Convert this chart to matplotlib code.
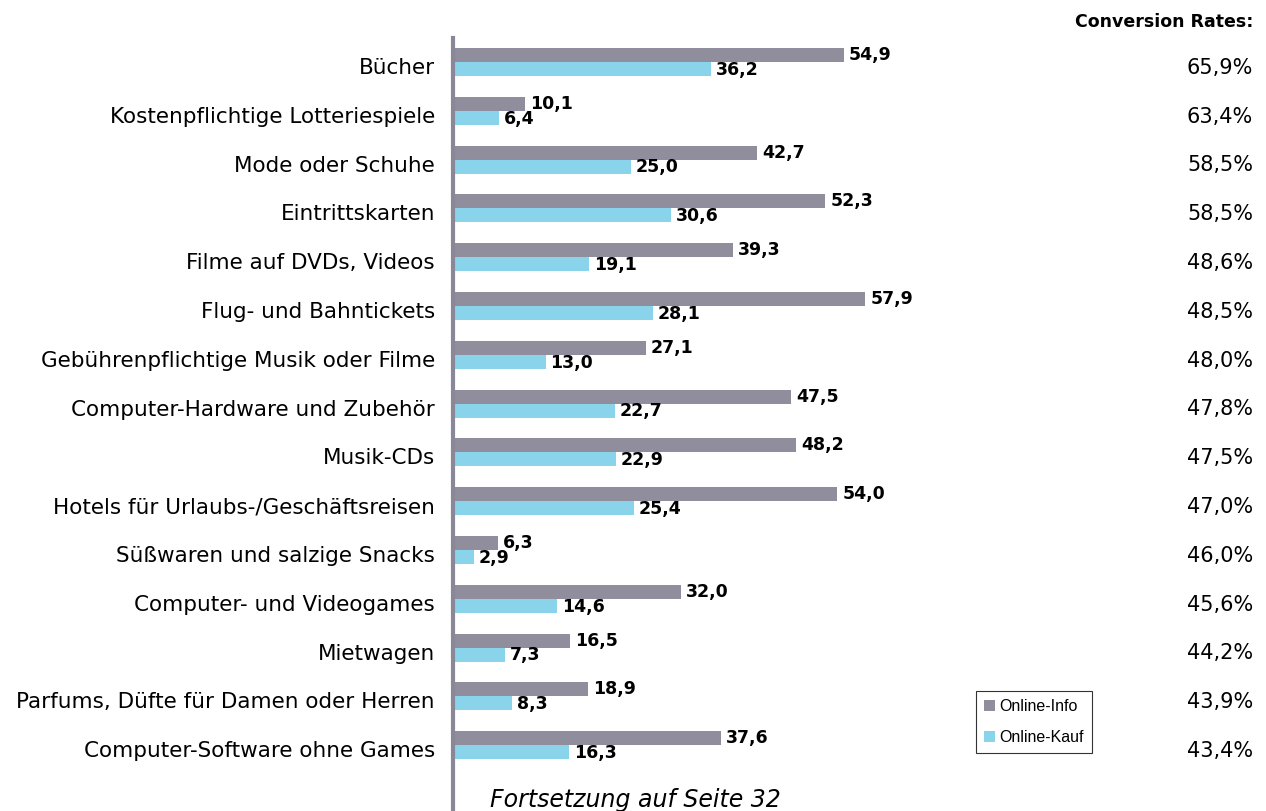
import numpy as np
import matplotlib
matplotlib.use('Agg')
import matplotlib.pyplot as plt
from matplotlib.transforms import ScaledTranslation

# data
categories = ['Bücher', 'Kostenpflichtige Lotteriespiele', 'Mode oder Schuhe', 'Eintrittskarten',
              'Filme auf DVDs, Videos', 'Flug- und Bahntickets', 'Gebührenpflichtige Musik oder Filme',
              'Computer-Hardware und Zubehör', 'Musik-CDs', 'Hotels für Urlaubs-/Geschäftsreisen',
              'Süßwaren und salzige Snacks', 'Computer- und Videogames', 'Mietwagen',
              'Parfums, Düfte für Damen oder Herren', 'Computer-Software ohne Games']
online_info = [54.9, 10.1, 42.7, 52.3, 39.3, 57.9, 27.1, 47.5, 48.2, 54.0, 6.3, 32.0, 16.5, 18.9, 37.6]
online_kauf = [36.2, 6.4, 25.0, 30.6, 19.1, 28.1, 13.0, 22.7, 22.9, 25.4, 2.9, 14.6, 7.3, 8.3, 16.3]
conversion = ['65,9%', '63,4%', '58,5%', '58,5%', '48,6%', '48,5%', '48,0%', '47,8%', '47,5%',
              '47,0%', '46,0%', '45,6%', '44,2%', '43,9%', '43,4%']

gray = '#908e9c'
cyan = '#89d4eb'

fig = plt.figure(figsize=(12.66, 8.11), dpi=100)
ax = fig.add_axes([453 / 1266, 0, 712 / 1266, 773 / 811])

y = np.arange(len(categories))
h = 0.287
ax.barh(y - h / 2, online_info, height=h, color=gray, label='Online-Info')
ax.barh(y + h / 2, online_kauf, height=h, color=cyan, label='Online-Kauf')

ax.set_xlim(0, 100)
ax.set_ylim(15.35, -0.49)

# value labels
off = ScaledTranslation(5 / 100, 0, fig.dpi_scale_trans)
for i in range(len(categories)):
    ax.text(online_info[i], y[i] - h / 2, '{:.1f}'.format(online_info[i]).replace('.', ','),
            ha='left', va='center', fontsize=12.5, fontweight='bold', transform=ax.transData + off)
    ax.text(online_kauf[i], y[i] + h / 2 + 0.02, '{:.1f}'.format(online_kauf[i]).replace('.', ','),
            ha='left', va='center', fontsize=12.5, fontweight='bold', transform=ax.transData + off)

# category labels as tick labels
ax.set_yticks(y)
ax.set_yticklabels(categories, fontsize=15.5)
ax.tick_params(axis='y', length=0, pad=13)
for lab in ax.get_yticklabels():
    lab.set_transform(lab.get_transform() + ScaledTranslation(0, -4 / 100, fig.dpi_scale_trans))
ax.set_xticks([])

for s in ['top', 'right', 'bottom']:
    ax.spines[s].set_visible(False)
ax.spines['left'].set_color('#8a8898')
ax.spines['left'].set_linewidth(3)

# conversion rates column
conv_tr = matplotlib.transforms.blended_transform_factory(fig.transFigure, ax.transData)
for i, c in enumerate(conversion):
    ax.text(1253 / 1266, y[i] + 0.12, c, ha='right', va='center', fontsize=15,
            transform=conv_tr, clip_on=False)
fig.text(1253 / 1266, 1 - 22 / 811, 'Conversion Rates:', ha='right', va='center',
         fontsize=12.5, fontweight='bold')

leg = ax.legend(loc='upper left', bbox_to_anchor=(976 / 1266, 1 - 691 / 811),
                bbox_transform=fig.transFigure, prop={'family': 'Liberation Sans', 'size': 11.5},
                frameon=True, fancybox=False, handlelength=0.7, handleheight=0.7,
                handletextpad=0.25, labelspacing=1.0, borderpad=0.5, borderaxespad=0)
leg.get_frame().set_edgecolor('black')
leg.get_frame().set_linewidth(0.8)

fig.text(490 / 1266, 1 - 800 / 811, 'Fortsetzung auf Seite 32', ha='left', va='center',
         fontsize=17, style='italic')

fig.savefig('out.png', dpi=100)
